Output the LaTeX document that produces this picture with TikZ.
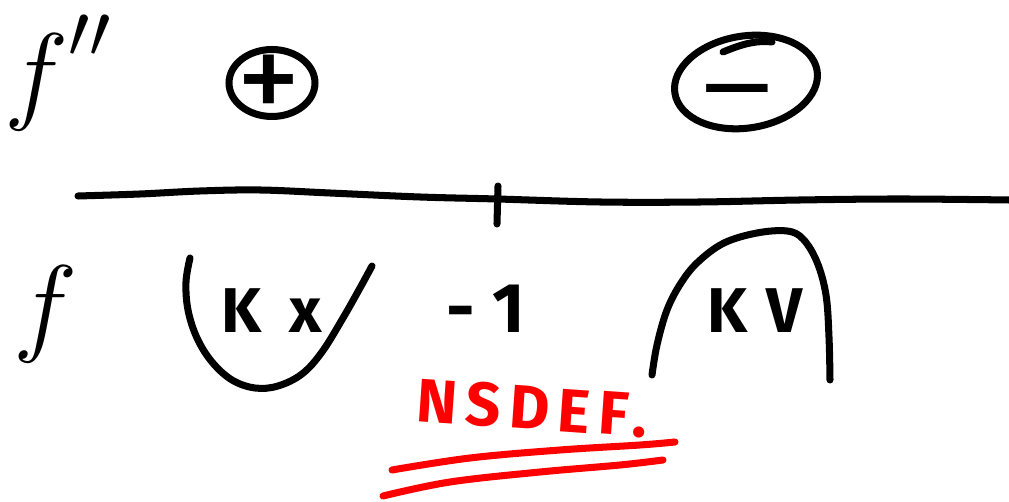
\RequirePackage{fix-cm}
\documentclass[tikz,border=0pt]{standalone}
\usepackage{fontspec}
\setmainfont{Fira Sans}
\usetikzlibrary{shapes.geometric}
\begin{document}
\begin{tikzpicture}[x=0.02cm,y=-0.02cm,
  ink/.style={line width=4pt, line cap=round, line join=round},
  redink/.style={ink, draw=red},
  hand/.style={font=\fontsize{36}{36}\selectfont\bfseries, inner sep=0pt},
  fsym/.style={font=\fontsize{62}{62}\selectfont, inner sep=7pt},
  signtext/.style={inner sep=0pt, anchor=base}]
\useasboundingbox (0,0) rectangle (1009,502);

% labels on the left
\node[fsym, anchor=base] (fpp) at (58,110) {$f^{\raisebox{0.12em}{$\scriptstyle\prime\prime$}}$};
\node[fsym, anchor=base] (f) at (46,342) {$f$};

% sign of f'' : plus
\node[draw, ellipse, line width=4pt, minimum width=1.72cm, minimum height=1.34cm] (plus) at (272,83) {};
\node[signtext, font=\fontsize{74}{74}\selectfont] (plustext) at (269,123) {+};

% sign of f'' : minus
\draw[ink, rotate around={9:(746,82)}] (746,82) ellipse [x radius=72, y radius=46];
\draw[ink] (723,52) .. controls (740,45) and (755,40) .. (772,42);
\node[signtext, font=\fontsize{60}{60}\selectfont] (minus) at (737,124) {\scalebox{1.55}[1]{−}};

% axis with tick
\draw[ink] plot[smooth, tension=0.6] coordinates {(78,196) (140,194) (200,191) (260,190) (330,193) (420,197) (497,199) (600,202) (700,202) (800,200) (900,199) (1009,200)};
\coordinate (tickTop) at (498,186);
\coordinate (tickBot) at (497,224);
\draw[ink] (tickTop) -- (tickBot);

% convex bowl
\draw[ink] plot[smooth, tension=0.6] coordinates {(190,258) (186,282) (188,310) (197,338) (212,362) (232,380) (255,388) (278,386) (302,374) (322,352) (343,318) (360,288) (372,266)};
\node[hand] (kx) at (272,311) {K\hspace{0.45em}x};

% -1
\node[hand, font=\fontsize{40}{40}\selectfont\bfseries] (m1) at (486,309) {-\hspace{0.25em}1};

% concave arch
\draw[ink] plot[smooth, tension=0.6] coordinates {(652,375) (657,345) (667,310) (681,283) (698,262) (724,243) (757,233) (787,231) (803,239) (817,262) (826,295) (829,337) (830,380)};
\node[hand] (kv) at (755,311) {K\hspace{0.3em}V};

% red note
\node[hand, text=red, rotate=-4, font=\fontsize{35}{35}\selectfont\bfseries\addfontfeature{LetterSpace=14}] (note) at (532,408) {NSDEF.};
\draw[redink] plot[smooth, tension=0.6] coordinates {(392,470) (470,458) (560,450) (640,445) (675,442)};
\draw[redink] plot[smooth, tension=0.6] coordinates {(383,496) (450,482) (540,472) (620,465) (663,460)};
\end{tikzpicture}
\end{document}
